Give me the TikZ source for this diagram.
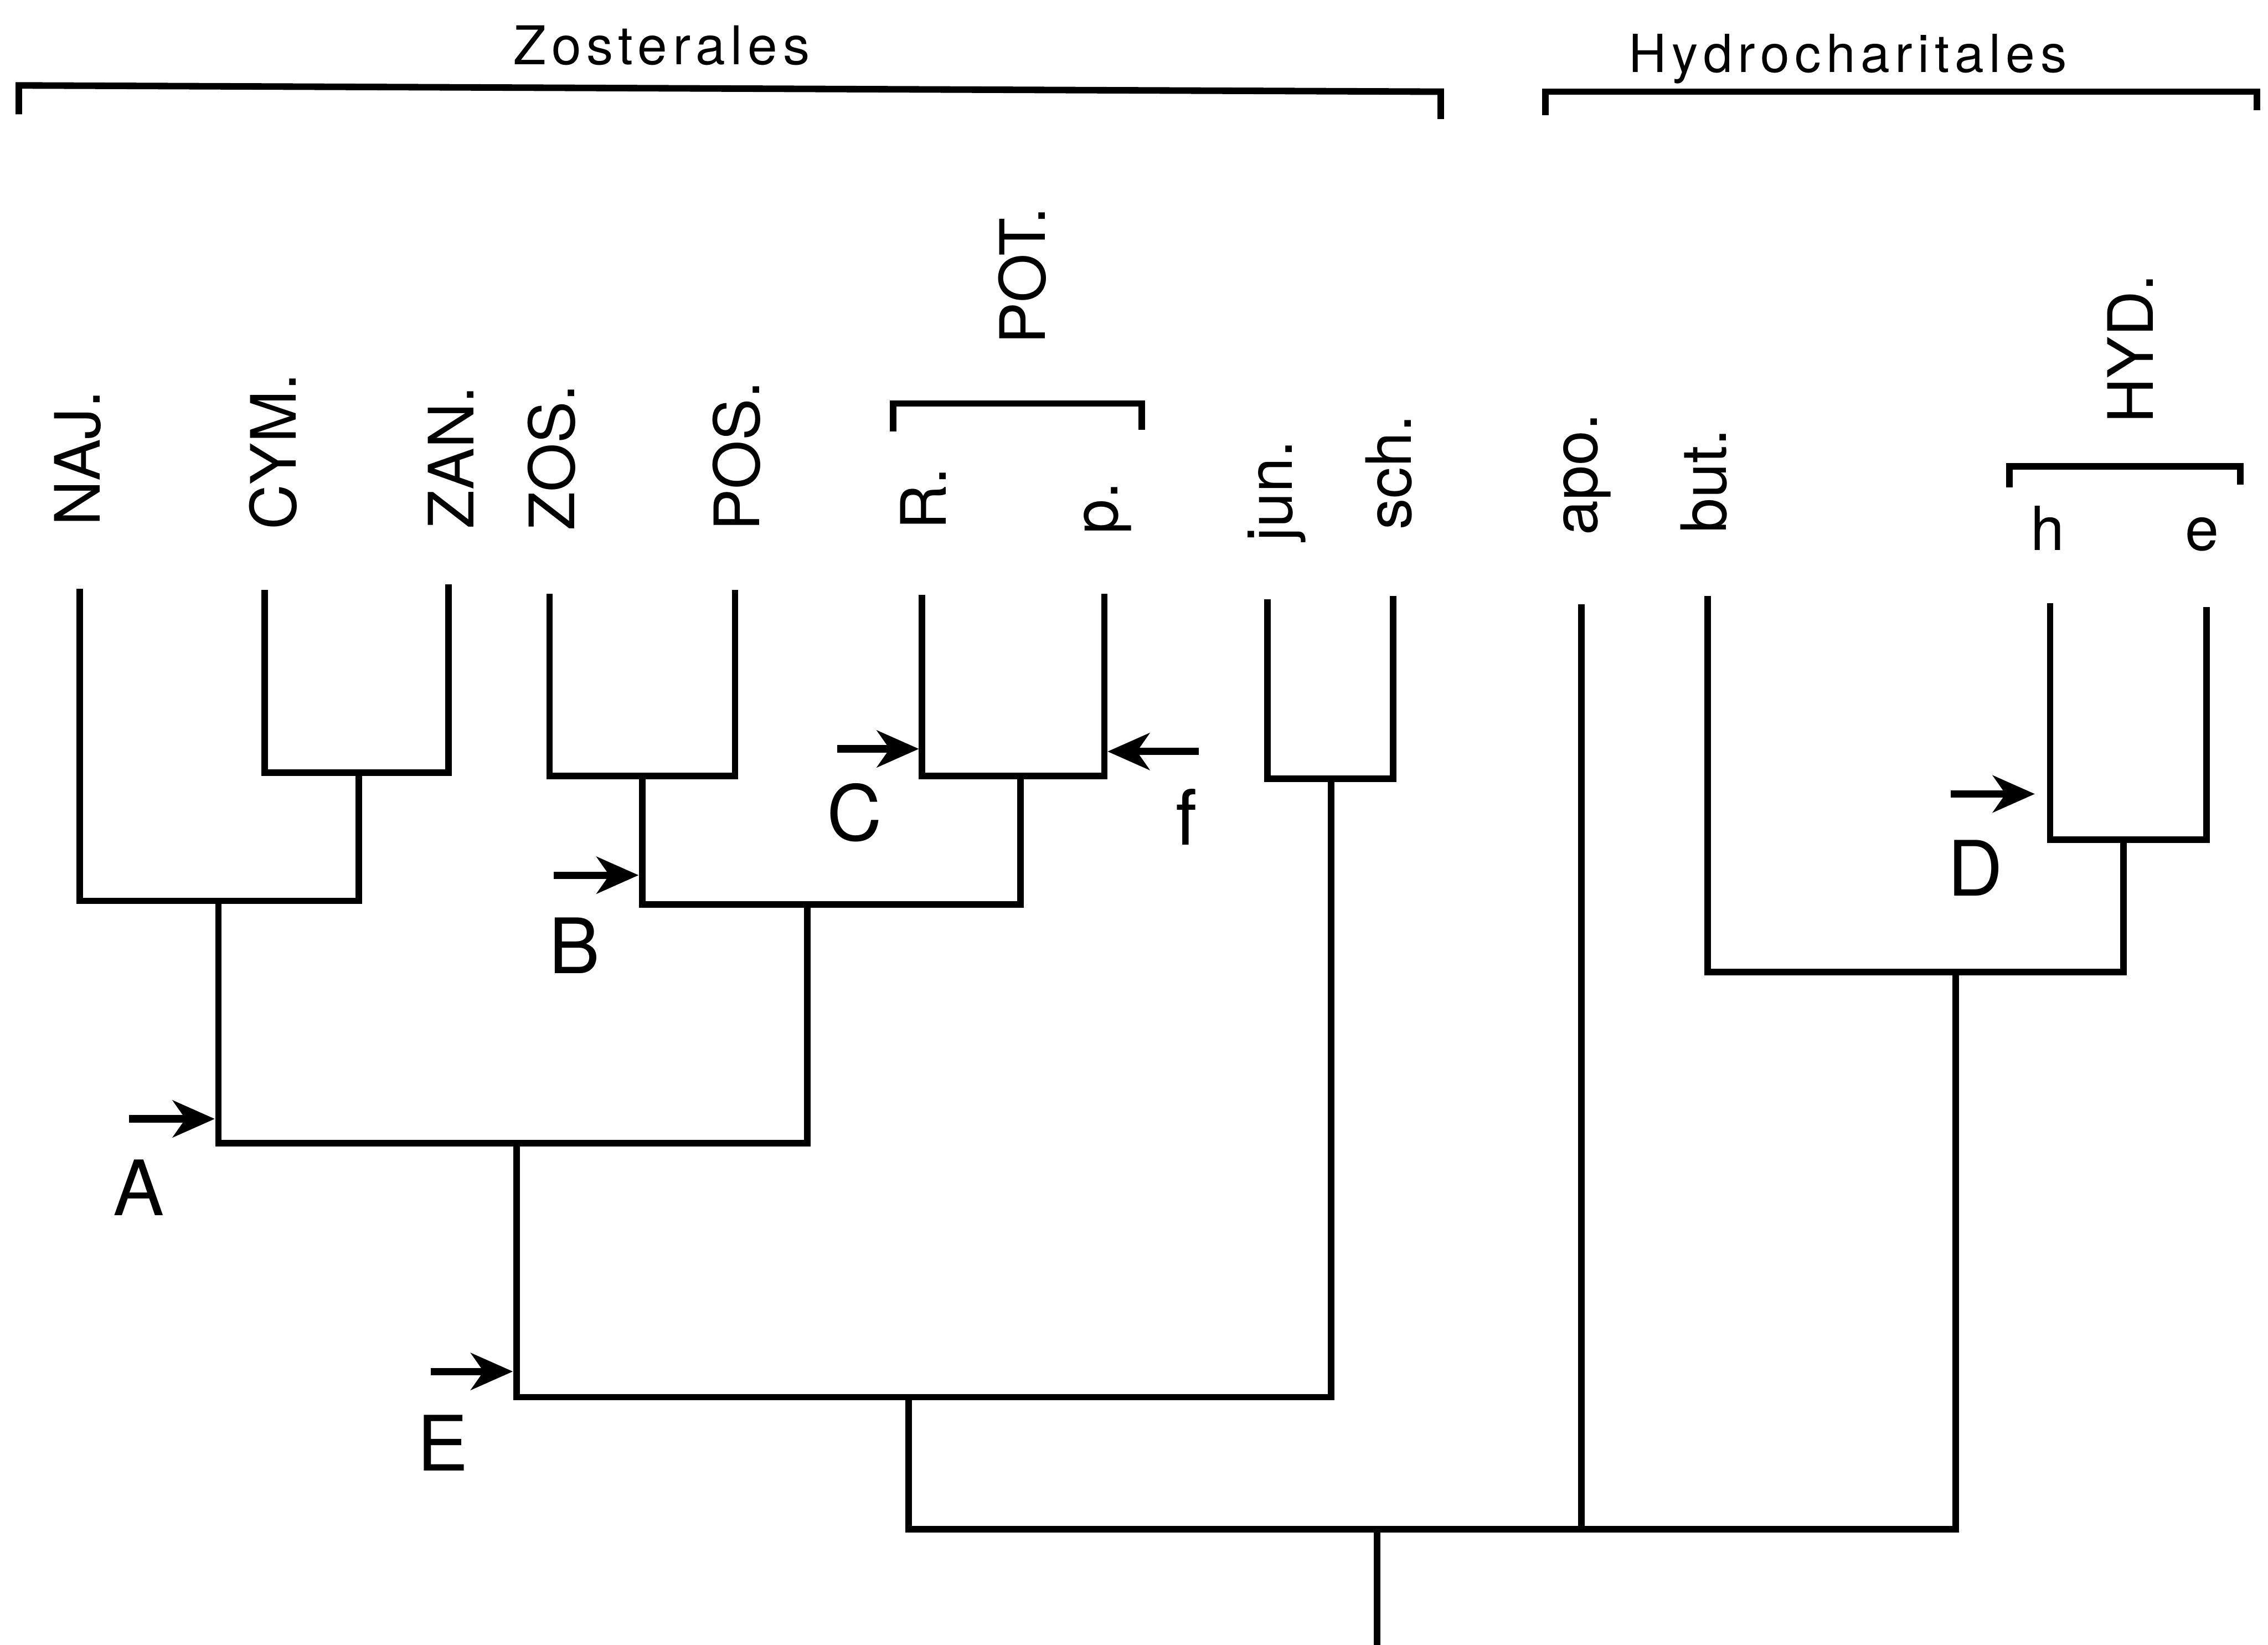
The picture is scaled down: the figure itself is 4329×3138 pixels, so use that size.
\documentclass[tikz,border=0pt]{standalone}
\usepackage{fontspec}
\setmainfont{TeX Gyre Heros}
\usetikzlibrary{arrows.meta}
\begin{document}
\begin{tikzpicture}[x=0.1mm,y=-0.1mm,
  branch/.style={line width=1.25mm, line join=miter, line cap=butt},
  brack/.style={line width=1.25mm, line join=miter},
  lab/.style={rotate=90, inner sep=0pt, anchor=base west, font=\fontsize{34pt}{40pt}\selectfont},
  small/.style={inner sep=0pt, anchor=base, font=\fontsize{33pt}{40pt}\selectfont},
  big/.style={inner sep=0pt, anchor=base, font=\fontsize{41.5pt}{48pt}\selectfont},
  title/.style={inner sep=0pt, anchor=base, font=\fontsize{29pt}{34pt}\selectfont\addfontfeature{LetterSpace=10}},
  chararrow/.style={line width=1.4mm, -{Stealth[length=8mm 0 0, width=7mm 0 0, inset=2.4mm 0]}}]
\useasboundingbox (0,0) rectangle (4329,3138);
\fill[white] (0,0) rectangle (4329,3138);

% group titles and brackets
\node[title] (zost) at (1263,123) {Zosterales};
\node[title,font=\fontsize{28.5pt}{34pt}\selectfont\addfontfeature{LetterSpace=10}] (hydro) at (3527,138) {Hydrocharitales};
\draw[brack] (36,218) -- (36,163) -- (2750,175) -- (2750,227);
\draw[brack] (2950,220) -- (2950,175) -- (4308,175) -- (4308,210);
\draw[brack] (1705,823) -- (1705,770) -- (2179,770) -- (2179,820);
\draw[brack] (3835,930) -- (3835,890) -- (4276,890) -- (4276,925);

% taxon labels
\node[lab] (tnaj) at (191,1004) {NAJ.};
\node[lab] (tcym) at (565,1012) {CYM.};
\node[lab] (tzan) at (904,1009) {ZAN.};
\node[lab] (tzos) at (1096,1013) {ZOS.};
\node[lab] (tpos) at (1450,1014) {POS.};
\node[lab] (tr) at (1806,1012) {R.};
\node[lab] (tp) at (2133,1020) {p.};
\node[lab] (tpot) at (1995,658) {POT.};
\node[lab] (tjun) at (2466,1034) {jun.};
\node[lab] (tsch) at (2693,1012) {sch.};
\node[lab] (tapo) at (3049,1022) {apo.};
\node[lab] (tbut) at (3295,1018) {but.};
\node[lab] (thyd) at (4110,809) {HYD.};
\node[small] (th) at (3908,1050) {h};
\node[small] (te) at (4203,1050) {e};

% leaf tips
\coordinate (naj) at (152,1123);
\coordinate (cym) at (505,1126);
\coordinate (zan) at (856,1115);
\coordinate (zos) at (1049,1133);
\coordinate (pos) at (1403,1126);
\coordinate (r) at (1760,1135);
\coordinate (p) at (2108,1133);
\coordinate (jun) at (2419,1144);
\coordinate (sch) at (2659,1137);
\coordinate (apo) at (3018,1153);
\coordinate (but) at (3259,1137);
\coordinate (h) at (3913,1151);
\coordinate (e) at (4212,1158);

% internal nodes
\coordinate (n1) at (685,1474);
\coordinate (n2) at (417,1719);
\coordinate (n3) at (1226,1481);
\coordinate (n4) at (1948,1481);
\coordinate (n5) at (1541,1726);
\coordinate (n6) at (986,2181);
\coordinate (n7) at (2541,1486);
\coordinate (n8) at (1734,2666);
\coordinate (n9) at (4053,1602);
\coordinate (n10) at (3733,1855);
\coordinate (root) at (2628,2918);
\coordinate (rootend) at (2628,3160);

% tree
\draw[branch] (cym) |- (n1);
\draw[branch] (zan) |- (n1);
\draw[branch] (naj) |- (n2);
\draw[branch] (n1) |- (n2);
\draw[branch] (zos) |- (n3);
\draw[branch] (pos) |- (n3);
\draw[branch] (r) |- (n4);
\draw[branch] (p) |- (n4);
\draw[branch] (n3) |- (n5);
\draw[branch] (n4) |- (n5);
\draw[branch] (n2) |- (n6);
\draw[branch] (n5) |- (n6);
\draw[branch] (jun) |- (n7);
\draw[branch] (sch) |- (n7);
\draw[branch] (n6) |- (n8);
\draw[branch] (n7) |- (n8);
\draw[branch] (h) |- (n9);
\draw[branch] (e) |- (n9);
\draw[branch] (but) |- (n10);
\draw[branch] (n9) |- (n10);
\draw[branch] (n8) |- (root);
\draw[branch] (apo) |- (root);
\draw[branch] (n10) |- (root);
\draw[branch] (root) -- (rootend);

% character arrows
\coordinate (aS) at (246,2135);  \coordinate (aT) at (410,2135);
\coordinate (bS) at (1057,1670); \coordinate (bT) at (1219,1670);
\coordinate (cS) at (1598,1429); \coordinate (cT) at (1754,1429);
\coordinate (fS) at (2288,1434); \coordinate (fT) at (2114,1434);
\coordinate (dS) at (3723,1515); \coordinate (dT) at (3884,1515);
\coordinate (eS) at (822,2617);  \coordinate (eT) at (979,2617);
\draw[chararrow] (aS) -- (aT);
\draw[chararrow] (bS) -- (bT);
\draw[chararrow] (cS) -- (cT);
\draw[chararrow] (fS) -- (fT);
\draw[chararrow] (dS) -- (dT);
\draw[chararrow] (eS) -- (eT);

\node[big] (la) at (265,2319) {A};
\node[big] (lb) at (1097,1857) {B};
\node[big] (lc) at (1631,1604) {C};
\node[big] (ld) at (3770,1709) {D};
\node[big] (le) at (845,2807) {E};
\node[big] (lf) at (2265,1612) {f};
\end{tikzpicture}
\end{document}
